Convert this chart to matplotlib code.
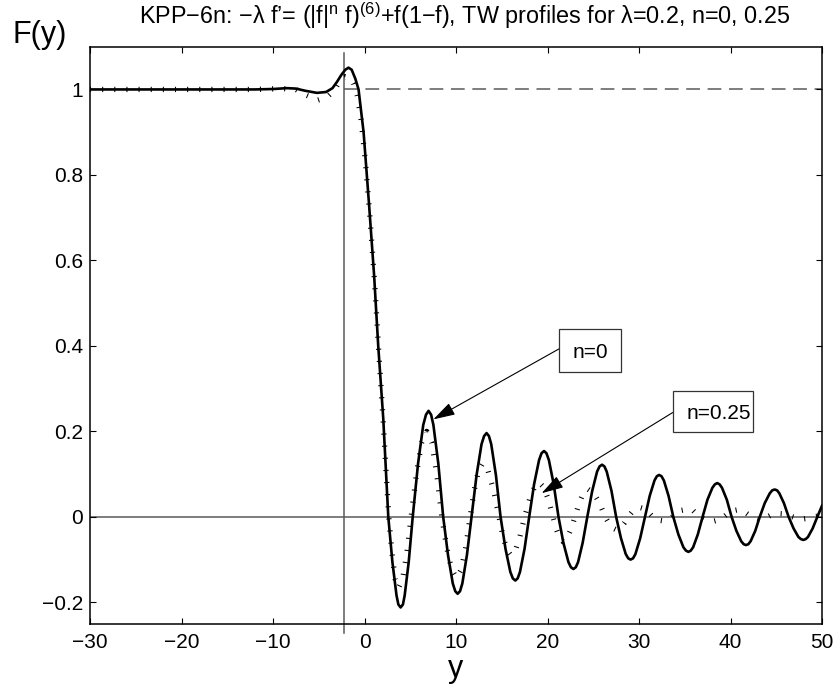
import numpy as np
import matplotlib
matplotlib.use('Agg')
import matplotlib.pyplot as plt
from matplotlib.patches import Rectangle

plt.rcParams['font.family'] = ['Liberation Sans', 'DejaVu Sans']
plt.rcParams['mathtext.fontset'] = 'custom'
plt.rcParams['mathtext.rm'] = 'Liberation Sans'
plt.rcParams['mathtext.it'] = 'Liberation Sans:italic'

# travelling wave profile, n = 0
y_n0 = [-30, -25, -20, -15, -12, -10, -8.5, -7.5, -6.5, -5.2, -4.2, -3.5, -3.0, -2.5, -2.1,
        -1.75, -1.4, -1.0, -0.65, -0.1, 0.5, 1.05, 1.5, 2.05, 2.6,
        3.05, 3.5, 3.95, 4.39, 4.83, 5.27,
        5.85, 6.42, 7.0, 7.53, 8.07, 8.6,
        9.13, 9.65, 10.18, 10.69, 11.19, 11.7,
        12.25, 12.79, 13.34, 13.85, 14.36, 14.87,
        15.41, 15.94, 16.48, 16.99, 17.49, 18.0,
        18.54, 19.08, 19.62, 20.15, 20.67, 21.2,
        21.74, 22.29, 22.83, 23.34, 23.84, 24.35,
        24.89, 25.42, 25.96, 26.47, 26.99, 27.5,
        28.03, 28.55, 29.08, 29.61, 30.13, 30.66,
        31.17, 31.69, 32.2, 32.72, 33.23, 33.75,
        34.3, 34.85, 35.4, 35.92, 36.43, 36.95,
        37.48, 38.02, 38.55, 39.07, 39.6, 40.12,
        40.65, 41.17, 41.7, 42.2, 42.7, 43.2,
        43.74, 44.29, 44.83, 45.34, 45.84, 46.35,
        46.89, 47.42, 47.96, 48.47, 48.98, 49.49, 50.0]
F_n0 = [1.0, 1.0, 1.0, 1.0, 1.0, 1.001, 1.003, 1.002, 0.997, 0.992, 0.994, 1.003, 1.018, 1.035, 1.046,
        1.051, 1.046, 1.025, 1.0, 0.9, 0.73, 0.565, 0.40, 0.23, 0.0,
        -0.106, -0.184, -0.212, -0.184, -0.106, 0.0,
        0.124, 0.215, 0.248, 0.215, 0.124, 0.0,
        -0.09, -0.156, -0.18, -0.156, -0.09, 0.0,
        0.098, 0.17, 0.196, 0.17, 0.098, 0.0,
        -0.075, -0.129, -0.149, -0.129, -0.075, 0.0,
        0.077, 0.133, 0.154, 0.133, 0.077, 0.0,
        -0.061, -0.106, -0.122, -0.106, -0.061, 0.0,
        0.061, 0.106, 0.122, 0.106, 0.061, 0.0,
        -0.05, -0.087, -0.1, -0.087, -0.05, 0.0,
        0.049, 0.085, 0.098, 0.085, 0.049, 0.0,
        -0.041, -0.071, -0.082, -0.071, -0.041, 0.0,
        0.04, 0.068, 0.079, 0.068, 0.04, 0.0,
        -0.033, -0.057, -0.066, -0.057, -0.033, 0.0,
        0.032, 0.055, 0.064, 0.055, 0.032, 0.0,
        -0.027, -0.047, -0.054, -0.047, -0.027, 0.0, 0.026]
# extra readings close to the crests and troughs of the n = 0 curve
y_n0_crest = [3.7, 4.2, 6.72, 7.28, 9.92, 10.44, 13.07, 13.6, 16.21, 16.74,
              19.35, 19.88, 22.56, 23.09, 25.69, 26.22, 28.82, 29.35, 31.95, 32.46,
              35.13, 35.66, 38.29, 38.81, 41.44, 41.95, 44.56, 45.09, 47.69, 48.22]
F_n0_crest = [-0.205, -0.205, 0.239, 0.239, -0.174, -0.174, 0.189, 0.189, -0.144, -0.144,
              0.149, 0.149, -0.118, -0.118, 0.118, 0.118, -0.097, -0.097, 0.095, 0.095,
              -0.079, -0.079, 0.076, 0.076, -0.064, -0.064, 0.062, 0.062, -0.052, -0.052]

# travelling wave profile, n = 0.25
y_n25 = [-30, -25, -20, -15, -12, -9, -7.5, -6.3, -5.1, -4.1, -3.3, -2.85, -2.45, -2.1,
         -1.6, -1.2, -0.8, -0.4, 0.1, 0.6, 1.1, 1.55, 2.05, 2.65,
         3.0, 3.35, 3.7, 4.17, 4.63, 5.1,
         5.67, 6.23, 6.8, 7.35, 7.9, 8.45,
         8.99, 9.53, 10.07, 10.56, 11.06, 11.55,
         12.0, 12.45, 12.9, 13.5, 14.1, 14.7,
         15.13, 15.57, 16.0, 16.5, 17.0, 17.5,
         18.03, 18.57, 19.1, 19.6, 20.1, 20.6,
         20.97, 21.33, 21.7, 22.13, 22.57, 23.0,
         23.47, 23.93, 24.4, 25.03, 25.67, 26.3,
         26.7, 27.1, 27.5, 27.93, 28.37, 28.8,
         29.23, 29.67, 30.1, 30.57, 31.03, 31.5,
         32.2, 32.8, 33.4, 34.0, 34.6, 35.3, 35.9, 36.6, 37.4, 38.2, 38.9, 39.5,
         40.2, 40.9, 41.5, 42.3, 43.0, 43.7, 44.4, 45.1, 45.8, 46.5, 47.2, 47.9,
         48.6, 49.3, 50.0]
F_n25 = [1.0, 1.0, 1.0, 1.0, 1.0, 1.002, 1.0, 0.986, 0.975, 0.982, 0.998, 1.015, 1.027, 1.03,
         1.027, 1.012, 0.985, 0.935, 0.83, 0.70, 0.55, 0.39, 0.22, 0.0,
         -0.084, -0.145, -0.167, -0.145, -0.084, 0.0,
         0.1, 0.173, 0.2, 0.173, 0.1, 0.0,
         -0.072, -0.124, -0.143, -0.124, -0.072, 0.0,
         0.063, 0.108, 0.125, 0.108, 0.063, 0.0,
         -0.045, -0.078, -0.09, -0.078, -0.045, 0.0,
         0.04, 0.069, 0.08, 0.069, 0.04, 0.0,
         -0.029, -0.05, -0.058, -0.05, -0.029, 0.0,
         0.033, 0.056, 0.065, 0.056, 0.033, 0.0,
         -0.015, -0.026, -0.03, -0.026, -0.015, 0.0,
         0.011, 0.019, 0.022, 0.019, 0.011, 0.0,
         -0.008, -0.01, -0.005, 0.006, 0.015, 0.018, 0.015, 0.0, -0.008, -0.01, -0.006, 0.004,
         0.014, 0.017, 0.012, 0.0, -0.005, -0.004, 0.004, 0.008, 0.007, 0.002, -0.003, -0.005,
         -0.003, 0.001, 0.003]

xticks = [-30, -20, -10, 0, 10, 20, 30, 40, 50]
yticks = [-0.2, 0, 0.2, 0.4, 0.6, 0.8, 1]
ytick_labels = ['\u22120.2', '0', '0.2', '0.4', '0.6', '0.8', '1']

front_x = -2.2   # vertical marker line

# merge the crest readings into the n = 0 series
x0 = np.array(y_n0 + y_n0_crest)
f0 = np.array(F_n0 + F_n0_crest)
order = np.argsort(x0)
x0, f0 = x0[order], f0[order]

fig = plt.figure(figsize=(8.36, 7.0), dpi=100)
ax = fig.add_axes([90 / 836, 1 - 623.7 / 700, 732 / 836, 577 / 700])

grey = '#5a5a5a'
ax.axhline(0, color=grey, lw=1.1, zorder=1)
ax.plot([front_x, front_x], [-0.272, 1.085], color=grey, lw=1.1, clip_on=False, zorder=1)
ax.plot([front_x, 50], [1, 1], color=grey, lw=1.1, ls=(0, (9, 5)), zorder=1)

ax.plot(x0, f0, color='black', lw=1.9, solid_joinstyle='round', zorder=3)
# MATLAB-style dotted line: short dashes on a wide line give perpendicular ticks
ax.plot(y_n25, F_n25, color='black', lw=3.8, ls=(0, (0.2, 2.1)),
        dash_capstyle='butt', zorder=2)

ax.set_xlim(-30, 50)
ax.set_ylim(-0.25, 1.1)
ax.set_xticks(xticks)
ax.set_xticklabels([str(t).replace('-', '\u2212') for t in xticks])
ax.set_yticks(yticks)
ax.set_yticklabels(ytick_labels)
ax.tick_params(direction='in', length=4.5, width=0.8, labelsize=15,
               top=True, right=True, pad=7)
ax.tick_params(axis='y', pad=5)
for s in ax.spines.values():
    s.set_linewidth(1.1)

# annotations
arrow = dict(arrowstyle='-|>,head_length=1.35,head_width=0.4', color='black',
             lw=0.8, shrinkA=0, shrinkB=0)
ax.annotate('', xy=(7.52, 0.228), xytext=(21.26, 0.393), arrowprops=arrow, zorder=5)
ax.annotate('', xy=(19.36, 0.0553), xytext=(33.68, 0.244), arrowprops=arrow, zorder=5)
ax.add_patch(Rectangle((21.26, 0.338), 28.03 - 21.26, 0.439 - 0.338,
                       facecolor='white', edgecolor='#333333', lw=0.9, zorder=6))
ax.add_patch(Rectangle((33.68, 0.199), 42.49 - 33.68, 0.294 - 0.199,
                       facecolor='white', edgecolor='#333333', lw=0.9, zorder=6))
ax.text(24.64, 0.3725, 'n=0', ha='center', va='baseline', fontsize=15, zorder=7)
ax.text(42.3, 0.228, 'n=0.25', ha='right', va='baseline', fontsize=15, zorder=7)

title = ('KPP\u22126n: \u2212\u03bb f\u2019= (|f|$^{\\mathrm{n}}$ f)$^{(6)}$+f(1\u2212f), '
         'TW profiles for \u03bb=0.2, n=0, 0.25')
fig.text(464.5 / 836, 1 - 24 / 700, title, ha='center', va='baseline', fontsize=16.8)
fig.text(12.7 / 836, 1 - 43.3 / 700, 'F(y)', ha='left', va='baseline', fontsize=22)
fig.text(456 / 836, 1 - 677 / 700, 'y', ha='center', va='baseline', fontsize=22)

fig.savefig('out.png', dpi=100)
